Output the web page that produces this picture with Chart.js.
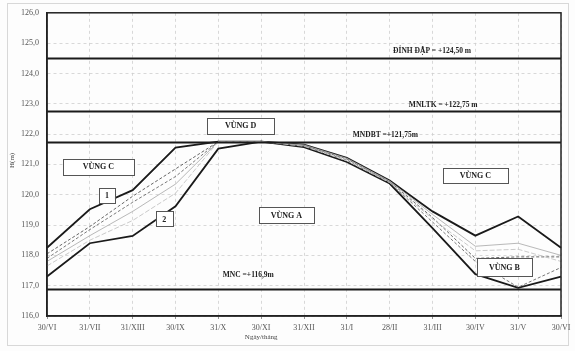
<!DOCTYPE html>
<html>
<head>
<meta charset="utf-8">
<script src="https://cdn.jsdelivr.net/npm/chart.js@4.4.1/dist/chart.umd.min.js"></script>
<style>
  html, body { margin: 0; padding: 0; background: #fff; }
  #wrap { width: 575px; height: 351px; position: relative; }
</style>
</head>
<body>
<div id="wrap"><canvas id="grafic" width="575" height="351"></canvas></div>
<script>
// Ngày/tháng
const cats = ['30/VI', '31/VII', '31/XIII', '30/IX', '31/X', '30/XI', '31/XII', '31/I', '28/II', '31/III', '30/IV', '31/V', '30/VI'];

// duong 1 (tren) va duong 2 (duoi)
const line1 = [118.25, 119.52, 120.15, 121.55, 121.75, 121.75, 121.65, 121.22, 120.47, 119.45, 118.65, 119.28, 118.25];
const line2 = [117.30, 118.40, 118.64, 119.62, 121.52, 121.75, 121.57, 121.08, 120.37, 118.90, 117.38, 116.93, 117.30];

// cac duong trung gian
const mid1 = [118.05, 118.95, 119.95, 120.85, 121.75, 121.75, 121.62, 121.18, 120.43, 119.25, 117.90, 117.95, 117.95];
const mid2 = [117.90, 118.85, 119.75, 120.60, 121.75, 121.75, 121.60, 121.14, 120.40, 119.10, 117.80, 116.95, 117.60];
const mid3 = [117.80, 118.65, 119.45, 120.35, 121.75, 121.75, 121.64, 121.20, 120.45, 119.35, 118.30, 118.40, 118.00];
const mid4 = [117.65, 118.50, 119.15, 120.05, 121.75, 121.75, 121.60, 121.12, 120.40, 119.20, 118.15, 118.20, 117.80];

// muc nuoc dac trung
const levels = [124.50, 122.75, 121.75, 116.90];
const levelNames = ['ĐỈNH ĐẬP = +124,50 m', 'MNLTK = +122,75 m', 'MNDBT =+121,75m', 'MNC =+116,9m'];

const yMin = 116, yMax = 126;

// vi tri chu thich (theo toa do du lieu)
const notes = [
    {text: levelNames[0], x: 8.99, y: 124.75},
    {text: levelNames[1], x: 9.25, y: 122.97},
    {text: levelNames[2], x: 7.90, y: 121.99},
    {text: levelNames[3], x: 4.70, y: 117.38},
    {text: 'VÙNG C', x: 1.20, y: 120.92, box: [71, 16]},
    {text: 'VÙNG D', x: 4.52, y: 122.28, box: [67, 16]},
    {text: 'VÙNG A', x: 5.59, y: 119.32, box: [55, 16]},
    {text: 'VÙNG C', x: 10.0, y: 120.62, box: [65, 15]},
    {text: 'VÙNG B', x: 10.68, y: 117.61, box: [55, 18]},
    {text: '1', x: 1.40, y: 119.96, box: [16, 15]},
    {text: '2', x: 2.74, y: 119.20, box: [17, 15]}
];

const serif = '"Liberation Serif", "DejaVu Serif", serif';

const decor = {
    id: 'decor',
    beforeDraw(chart) {
        const c = chart.ctx;
        c.save();
        c.fillStyle = '#fdfdfd';
        c.fillRect(0, 0, chart.width, chart.height);
        c.strokeStyle = '#d8d8d8';
        c.lineWidth = 1;
        c.strokeRect(7.5, 3.5, 561, 342);
        c.restore();
    },
    afterDatasetsDraw(chart) {
        const c = chart.ctx;
        const a = chart.chartArea;
        const xs = chart.scales.x, ys = chart.scales.y;
        c.save();
        // muc nuoc
        c.strokeStyle = '#1a1a1a';
        c.lineWidth = 2;
        levels.forEach(v => {
            const y = Math.round(ys.getPixelForValue(v)) + 0.5;
            c.beginPath();
            c.moveTo(a.left, y);
            c.lineTo(a.right, y);
            c.stroke();
        });
        // khung
        c.lineWidth = 1.5;
        c.strokeStyle = '#222';
        c.strokeRect(a.left, a.top, a.right - a.left, a.bottom - a.top);
        // chu thich
        c.textAlign = 'center';
        c.textBaseline = 'middle';
        notes.forEach(n => {
            const px = xs.getPixelForValue(n.x);
            const py = ys.getPixelForValue(n.y);
            if (n.box) {
                const w = n.box[0], h = n.box[1];
                c.fillStyle = '#fff';
                c.fillRect(px - w / 2, py - h / 2, w, h);
                c.strokeStyle = '#555';
                c.lineWidth = 1;
                c.strokeRect(Math.round(px - w / 2) + 0.5, Math.round(py - h / 2) + 0.5, w, h);
                c.font = 'bold 8px ' + serif;
            } else {
                c.font = 'bold 7.5px ' + serif;
            }
            c.fillStyle = '#222';
            c.fillText(n.text, px, py + 0.5);
        });
        // ten truc
        c.fillStyle = '#444';
        c.font = '7px ' + serif;
        c.fillText('Ngày/tháng', xs.getPixelForValue(5), 337);
        c.translate(12, (a.top + a.bottom) / 2 - 4);
        c.rotate(-Math.PI / 2);
        c.fillText('H(m)', 0, 0);
        c.restore();
    }
};

function mk(data, color, width, dash) {
    return {
        data: data,
        borderColor: color,
        borderWidth: width,
        borderDash: dash,
        pointRadius: 0,
        fill: false,
        tension: 0
    };
}

const ctx = document.getElementById('grafic');
const grafica = new Chart(ctx, {
    type: 'line',
    data: {
        labels: cats,
        datasets: [
            mk(mid4, '#c4c4c4', 0.9, [5, 2]),
            mk(mid3, '#b0b0b0', 0.9, []),
            mk(mid2, '#6a6a6a', 0.9, [3, 2]),
            mk(mid1, '#555', 0.9, [3, 2]),
            mk(line2, '#1a1a1a', 1.8, []),
            mk(line1, '#1a1a1a', 1.8, [])
        ]
    },
    options: {
        responsive: false,
        animation: false,
        events: [],
        layout: {padding: {left: 0, right: 14, top: 12, bottom: 0}},
        plugins: {legend: {display: false}, tooltip: {enabled: false}},
        scales: {
            x: {
                offset: false,
                afterFit: s => { s.height = 35; },
                grid: {color: '#cfcfcf', lineWidth: 0.8, tickLength: 3, tickColor: '#777', drawOnChartArea: true},
                border: {display: true, color: '#222', width: 1.5, dash: [3, 3]},
                ticks: {color: '#555', font: {family: serif, size: 8}, padding: 4, maxRotation: 0, autoSkip: false}
            },
            y: {
                min: yMin,
                max: yMax,
                afterFit: s => { s.width = 47; },
                grid: {color: '#cfcfcf', lineWidth: 0.8, drawTicks: false},
                border: {display: true, color: '#222', width: 1.5, dash: [3, 3]},
                ticks: {
                    stepSize: 1,
                    color: '#555',
                    padding: 8,
                    font: {family: serif, size: 8},
                    callback: v => v.toFixed(1).replace('.', ',')
                }
            }
        }
    },
    plugins: [decor]
});
</script>
</body>
</html>
